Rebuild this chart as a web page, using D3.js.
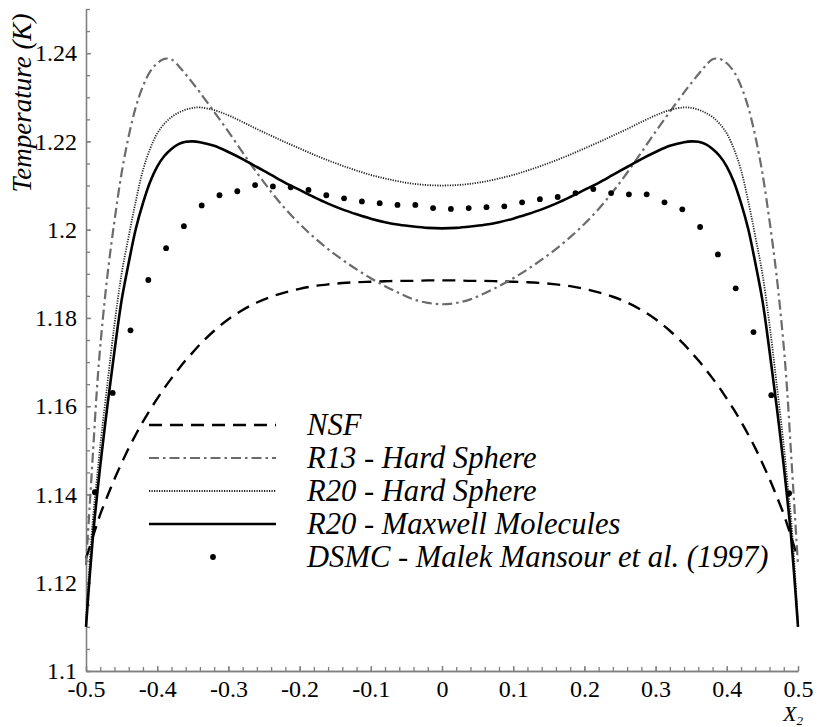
<!DOCTYPE html>
<html>
<head>
<meta charset="utf-8">
<script src="https://cdn.jsdelivr.net/npm/d3@7"></script>
<style>
  body { margin: 0; background: #fff; }
  svg { display: block; }
  svg text { font-family: 'Liberation Serif', 'Times New Roman', Tinos !important; }
</style>
</head>
<body>
<div id="chart"></div>
<script>
// X2 positions shared by the four model curves
var xCurve = [-0.5, -0.495, -0.49, -0.485, -0.48, -0.47, -0.46, -0.45, -0.44, -0.43, -0.42, -0.41, -0.4, -0.39, -0.38, -0.37, -0.36, -0.35, -0.34, -0.32, -0.3, -0.28, -0.26, -0.24, -0.22, -0.2, -0.18, -0.16, -0.14, -0.12, -0.1, -0.08, -0.06, -0.04, -0.02,
    0, 0.02, 0.04, 0.06, 0.08, 0.1, 0.12, 0.14, 0.16, 0.18, 0.2, 0.22, 0.24, 0.26, 0.28, 0.3, 0.32, 0.34, 0.35, 0.36, 0.37, 0.38, 0.39, 0.4, 0.41, 0.42, 0.43, 0.44, 0.45, 0.46, 0.47, 0.48, 0.485, 0.49, 0.495, 0.5];

// temperature of each model on xCurve
var tNSF = [1.1255, 1.128, 1.1306, 1.1331, 1.1355, 1.1396, 1.1435, 1.1471, 1.1505, 1.1536, 1.1565, 1.1592, 1.1617, 1.1641, 1.1663, 1.1684, 1.1704, 1.1722, 1.174, 1.1771, 1.1797, 1.1818, 1.1835, 1.1848, 1.1858, 1.1866, 1.1872, 1.1876, 1.1879, 1.1881, 1.1882, 1.1883, 1.1884, 1.1884, 1.1885,
    1.1885, 1.1885, 1.1884, 1.1884, 1.1883, 1.1882, 1.1881, 1.1879, 1.1876, 1.1872, 1.1866, 1.1858, 1.1848, 1.1835, 1.1818, 1.1797, 1.1771, 1.174, 1.1722, 1.1704, 1.1684, 1.1663, 1.1641, 1.1617, 1.1592, 1.1565, 1.1536, 1.1505, 1.1471, 1.1435, 1.1396, 1.1355, 1.1331, 1.1306, 1.128, 1.1255];

var tR13HS = [1.124, 1.137, 1.15, 1.163, 1.1735, 1.1895, 1.202, 1.2128, 1.2212, 1.2278, 1.2325, 1.2358, 1.2377, 1.2387, 1.2386, 1.2371, 1.2352, 1.2332, 1.2311, 1.2267, 1.2222, 1.2175, 1.2129, 1.2086, 1.2047, 1.2013, 1.1983, 1.1956, 1.1932, 1.191, 1.189, 1.1872, 1.1856, 1.1842, 1.1834,
    1.1831, 1.1834, 1.1842, 1.1856, 1.1872, 1.189, 1.191, 1.1932, 1.1956, 1.1983, 1.2013, 1.2047, 1.2086, 1.2129, 1.2175, 1.2222, 1.2267, 1.2311, 1.2332, 1.2352, 1.2371, 1.2386, 1.2387, 1.2377, 1.2358, 1.2325, 1.2278, 1.2212, 1.2128, 1.202, 1.1895, 1.1735, 1.163, 1.15, 1.137, 1.124];

var tR20HS = [1.111, 1.124, 1.135, 1.143, 1.151, 1.165, 1.1785, 1.19, 1.1985, 1.2065, 1.2135, 1.2183, 1.2218, 1.224, 1.2255, 1.2265, 1.2272, 1.2276, 1.2277, 1.2271, 1.2259, 1.2244, 1.2228, 1.2213, 1.2198, 1.2184, 1.217, 1.2157, 1.2145, 1.2134, 1.2124, 1.2116, 1.2109, 1.2104, 1.2101,
    1.21, 1.2101, 1.2104, 1.2109, 1.2116, 1.2124, 1.2134, 1.2145, 1.2157, 1.217, 1.2184, 1.2198, 1.2213, 1.2228, 1.2244, 1.2259, 1.2271, 1.2277, 1.2276, 1.2272, 1.2265, 1.2255, 1.224, 1.2218, 1.2183, 1.2135, 1.2065, 1.1985, 1.19, 1.1785, 1.165, 1.151, 1.143, 1.135, 1.124, 1.111];

var tR20MM = [1.11, 1.121, 1.131, 1.139, 1.1465, 1.16, 1.1725, 1.184, 1.1925, 1.2002, 1.206, 1.2108, 1.2143, 1.2167, 1.2183, 1.2194, 1.2199, 1.22, 1.2198, 1.219, 1.2176, 1.216, 1.2142, 1.2124, 1.2106, 1.209, 1.2074, 1.2059, 1.2046, 1.2035, 1.2025, 1.2017, 1.2011, 1.2007, 1.2004,
    1.2003, 1.2004, 1.2007, 1.2011, 1.2017, 1.2025, 1.2035, 1.2046, 1.2059, 1.2074, 1.209, 1.2106, 1.2124, 1.2142, 1.216, 1.2176, 1.219, 1.2198, 1.22, 1.2199, 1.2194, 1.2183, 1.2167, 1.2143, 1.2108, 1.206, 1.2002, 1.1925, 1.184, 1.1725, 1.16, 1.1465, 1.139, 1.131, 1.121, 1.11];

// DSMC points (Malek Mansour et al. 1997)
var xDSMC = [-0.4875, -0.4625, -0.4375, -0.4125, -0.3875, -0.3625, -0.3375, -0.3125, -0.2875, -0.2625, -0.2375, -0.2125, -0.1875, -0.1625, -0.1375, -0.1125, -0.0875, -0.0625, -0.0375, -0.0125,
    0.0125, 0.0375, 0.0625, 0.0875, 0.1125, 0.1375, 0.1625, 0.1875, 0.2125, 0.2375, 0.2625, 0.2875, 0.3125, 0.3375, 0.3625, 0.3875, 0.4125, 0.4375, 0.4625, 0.4875];
var tDSMC = [1.1405, 1.163, 1.1772, 1.1886, 1.1958, 1.2008, 1.2055, 1.2078, 1.2087, 1.2101, 1.2098, 1.2096, 1.209, 1.2078, 1.2071, 1.2064, 1.206, 1.2056, 1.2056, 1.2049,
    1.2047, 1.2049, 1.2051, 1.2053, 1.2062, 1.2069, 1.2074, 1.2083, 1.2092, 1.2083, 1.208, 1.208, 1.2062, 1.2046, 1.2006, 1.1944, 1.1867, 1.1768, 1.1625, 1.1403];

var xTickValues = [-0.5, -0.4, -0.3, -0.2, -0.1, 0, 0.1, 0.2, 0.3, 0.4, 0.5];
var yTickValues = [1.1, 1.12, 1.14, 1.16, 1.18, 1.2, 1.22, 1.24];
var legendLabels = ["NSF", "R13 - Hard Sphere", "R20 - Hard Sphere", "R20 - Maxwell Molecules", "DSMC - Malek Mansour et al. (1997)"];

var width = 817;
var height = 727;
var fontFace = "Liberation Serif";

var x = d3.scaleLinear().domain([-0.5, 0.5]).range([86, 798]);
var y = d3.scaleLinear().domain([1.1, 1.25]).range([671, 9]);

var svg = d3.select("#chart")
    .append("svg")
    .attr("width", width)
    .attr("height", height);

var axisColor = "#7f7f7f";

// minor ticks (pointing inward)
svg.append("g")
    .attr("transform", "translate(0," + y(1.1) + ")")
    .call(d3.axisBottom(x).tickValues(x.ticks(50)).tickSize(-4).tickSizeOuter(0).tickFormat(""));
svg.append("g")
    .attr("transform", "translate(" + x(-0.5) + ",0)")
    .call(d3.axisLeft(y).tickValues(y.ticks(30)).tickSize(-4).tickSizeOuter(0).tickFormat(""));

// major ticks with labels
svg.append("g")
    .attr("transform", "translate(0," + y(1.1) + ")")
    .call(d3.axisBottom(x).tickValues(xTickValues).tickSize(-5).tickSizeOuter(0).tickPadding(9)
        .tickFormat(function(d) { return String(+d.toFixed(1)); }));
svg.append("g")
    .attr("transform", "translate(" + x(-0.5) + ",0)")
    .call(d3.axisLeft(y).tickValues(yTickValues).tickSize(-5).tickSizeOuter(0).tickPadding(9)
        .tickFormat(function(d) { return String(+d.toFixed(2)); }));

// d3 puts font-family="sans-serif" on axis groups; drop it
svg.selectAll("g").attr("font-family", null);
svg.selectAll(".domain, .tick line")
    .attr("stroke", axisColor)
    .attr("stroke-width", 1.3);
svg.selectAll(".tick text")
    .attr("font-size", 24)
    .attr("fill", "#000");

// axis titles
svg.append("text")
    .attr("transform", "translate(31,103) rotate(-90)")
    .attr("text-anchor", "middle")
    .attr("font-style", "italic")
    .attr("font-size", 27)
    .text("Temperature (K)");

var xTitle = svg.append("text")
    .attr("x", 783)
    .attr("y", 721)
    .attr("font-style", "italic")
    .attr("font-size", 22)
    .text("X");
xTitle.append("tspan")
    .attr("font-size", 13)
    .attr("dy", 4)
    .text("2");

// model curves
var series = [
    { values: tNSF, stroke: "#000", width: 2.4, dash: "13,8" },
    { values: tR13HS, stroke: "#6b6b6b", width: 2.2, dash: "10,4,2.5,4" },
    { values: tR20HS, stroke: "#222", width: 1.8, dash: "1.2,1.3" },
    { values: tR20MM, stroke: "#000", width: 2.6, dash: null }
];

var line = d3.line()
    .x(function(d) { return x(d[0]); })
    .y(function(d) { return y(d[1]); })
    .curve(d3.curveCatmullRom.alpha(0.5));

series.forEach(function(s) {
    svg.append("path")
        .datum(xCurve.map(function(v, i) { return [v, s.values[i]]; }))
        .attr("fill", "none")
        .attr("stroke", s.stroke)
        .attr("stroke-width", s.width)
        .attr("stroke-dasharray", s.dash)
        .attr("d", line);
});

// DSMC markers
svg.append("g")
    .selectAll("circle")
    .data(xDSMC.map(function(v, i) { return [v, tDSMC[i]]; }))
    .enter()
    .append("circle")
    .attr("cx", function(d) { return x(d[0]); })
    .attr("cy", function(d) { return y(d[1]); })
    .attr("r", 2.9)
    .attr("fill", "#000");

// legend
var legendRow = d3.scalePoint().domain(d3.range(legendLabels.length)).range([425, 557]);
var legend = svg.append("g");

legendLabels.forEach(function(label, i) {
    var ry = legendRow(i);
    if (i < series.length) {
        legend.append("line")
            .attr("x1", 149).attr("x2", 276)
            .attr("y1", ry).attr("y2", ry)
            .attr("stroke", series[i].stroke)
            .attr("stroke-width", series[i].width)
            .attr("stroke-dasharray", series[i].dash);
    } else {
        legend.append("circle")
            .attr("cx", 213).attr("cy", ry)
            .attr("r", 2.9)
            .attr("fill", "#000");
    }
    legend.append("text")
        .attr("x", 307)
        .attr("y", ry + 10)
        .attr("font-style", "italic")
        .attr("font-size", 30.6)
        .text(label);
});

// serif face on every text
svg.selectAll("text")
    .attr("font-family", fontFace)
    .style("font-family", "'" + fontFace + "'");
</script>
</body>
</html>
